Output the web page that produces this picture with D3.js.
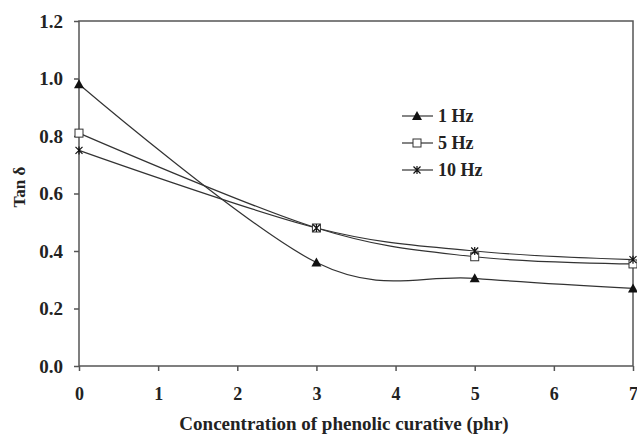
<!DOCTYPE html>
<html><head><meta charset="utf-8">
<script src="https://cdn.jsdelivr.net/npm/d3@7"></script>
<style>body{margin:0;background:#fff}svg{display:block}text{font-family:"Liberation Serif","Times New Roman",serif;font-weight:bold;fill:#222}</style>
</head><body><svg id="c" width="637" height="437"></svg>
<script>
const concentrations = [0, 3, 5, 7];
const hz1 = [0.98, 0.36, 0.305, 0.27];
const hz5 = [0.81, 0.48, 0.38, 0.355];
const hz10 = [0.75, 0.48, 0.40, 0.37];
const seriesNames = ["1 Hz", "5 Hz", "10 Hz"];
const xTicks = [0,1,2,3,4,5,6,7];
const yTicks = [0.0,0.2,0.4,0.6,0.8,1.0,1.2];

const svg = d3.select("#c");
const x = d3.scaleLinear().domain([0,7]).range([79,633]);
const y = d3.scaleLinear().domain([0,1.2]).range([366,21]);
const col = "#333";

svg.append("rect").attr("x",79).attr("y",21).attr("width",554).attr("height",345)
  .attr("fill","none").attr("stroke","#555").attr("stroke-width",1.5);

const xa = svg.append("g").attr("transform","translate(0,366)")
  .call(d3.axisBottom(x).tickValues(xTicks).tickFormat(d3.format("d")).tickSize(5).tickPadding(16));
const ya = svg.append("g").attr("transform","translate(79,0)")
  .call(d3.axisLeft(y).tickValues(yTicks).tickFormat(d3.format(".1f")).tickSize(5).tickPadding(11));
[xa,ya].forEach(a=>{a.select(".domain").remove();a.selectAll("line").attr("stroke","#555").attr("stroke-width",1.5);
  a.selectAll("text").attr("font-size",18).style("font-family","Liberation Serif").style("font-weight","bold").attr("fill","#222");});
ya.selectAll("text").attr("font-size",19);

svg.append("text").attr("x",344).attr("y",430).attr("text-anchor","middle").attr("font-size",19)
  .text("Concentration of phenolic curative (phr)");
svg.append("text").attr("transform","translate(25,187) rotate(-90)").attr("text-anchor","middle").attr("font-size",17)
  .text("Tan δ");

const data = [hz1,hz5,hz10].map((vals,i)=>({name:seriesNames[i],pts:concentrations.map((c,j)=>[c,vals[j]])}));
const line = d3.line().x(d=>x(d[0])).y(d=>y(d[1])).curve(d3.curveCatmullRom.alpha(0));

function marker(g,i,cx,cy){
  if(i===0){g.append("path").attr("d",`M${cx},${cy-5}L${cx+5},${cy+4}L${cx-5},${cy+4}Z`).attr("fill","#111");}
  else if(i===1){g.append("rect").attr("x",cx-4).attr("y",cy-4).attr("width",8).attr("height",8).attr("fill","#fff").attr("stroke","#333").attr("stroke-width",1);}
  else {g.append("path").attr("d",`M${cx-3.5},${cy-3.5}L${cx+3.5},${cy+3.5}M${cx+3.5},${cy-3.5}L${cx-3.5},${cy+3.5}M${cx},${cy-4}L${cx},${cy+4}`).attr("stroke","#111").attr("stroke-width",1.2);}
}

data.forEach((s,i)=>{
  svg.append("path").attr("d",line(s.pts)).attr("fill","none").attr("stroke",col).attr("stroke-width",1.2);
});
data.forEach((s,i)=>{
  const g = svg.append("g");
  s.pts.forEach(p=>marker(g,i,x(p[0]),y(p[1])));
});

const ly = [116,143,170];
data.forEach((s,i)=>{
  const g = svg.append("g");
  g.append("line").attr("x1",402).attr("x2",433).attr("y1",ly[i]).attr("y2",ly[i]).attr("stroke",col).attr("stroke-width",1.2);
  marker(g,i,417,ly[i]);
  g.append("text").attr("x",438).attr("y",ly[i]+6).attr("font-size",18).text(s.name);
});
</script></body></html>
